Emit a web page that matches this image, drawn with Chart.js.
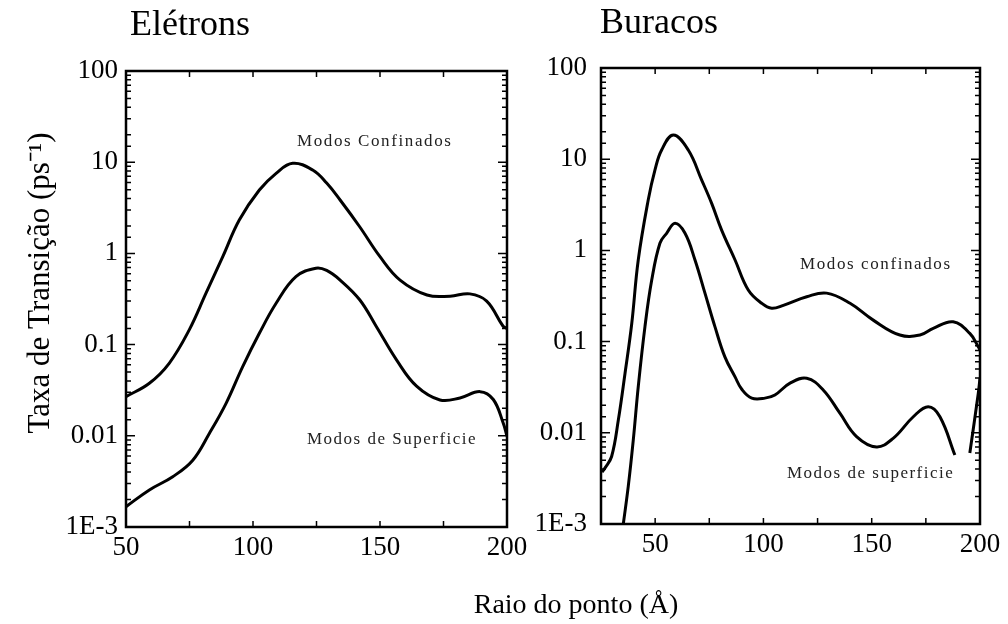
<!DOCTYPE html>
<html>
<head>
<meta charset="utf-8">
<script src="https://cdn.jsdelivr.net/npm/chart.js@4.4.1/dist/chart.umd.min.js"></script>
<style>
  body { margin: 0; background: #fff; }
  #quadro { position: relative; width: 1008px; height: 624px; }
  canvas { position: absolute; left: 0; top: 0; }
</style>
</head>
<body>
<div id="quadro">
  <canvas id="graficoEletrons" width="1008" height="624"></canvas>
  <canvas id="graficoBuracos" width="1008" height="624"></canvas>
</div>
<script>
// Elétrons - modos confinados
const raioEletronsConf = [50, 59.2, 67, 74.9, 81.5, 88.1, 94.6, 102.5, 109.1, 115.6, 123.5, 129, 134.3, 142, 150, 157.9, 168.5, 177.6, 185.4, 192, 198.4, 200];
const taxaEletronsConf = [0.0269, 0.0377, 0.0624, 0.145, 0.366, 0.92, 2.32, 4.95, 7.55, 9.72, 8.2, 5.9, 3.85, 1.96, 0.92, 0.51, 0.35, 0.34, 0.36, 0.30, 0.16, 0.15];
// Elétrons - modos de superfície
const raioEletronsSup = [50, 59.2, 68.4, 76.3, 82.8, 89.4, 95.9, 102.5, 109.1, 116.9, 124.8, 129, 134.3, 142, 148.6, 156.5, 164.4, 173.6, 181.5, 189.4, 194.6, 198.5, 200];
const taxaEletronsSup = [0.00167, 0.00255, 0.00356, 0.0054, 0.0106, 0.0227, 0.057, 0.133, 0.284, 0.556, 0.687, 0.65, 0.51, 0.31, 0.157, 0.068, 0.035, 0.0247, 0.026, 0.0305, 0.025, 0.0138, 0.0099];

// Buracos - modos confinados
const raioBuracosConf = [25.5, 26.8, 29.9, 33, 36.1, 39.2, 42.2, 46.8, 49.9, 53, 58.4, 65.3, 71.5, 76.1, 80.7, 86.9, 93, 99.2, 103.8, 109.2, 120, 129.2, 140, 150.7, 163, 172.3, 178.4, 187.6, 195.3, 199.2, 200];
const taxaBuracosConf = [0.0037, 0.0041, 0.0055, 0.0138, 0.045, 0.158, 0.785, 3.57, 7.6, 12.6, 18.4, 12.6, 5.9, 3.28, 1.67, 0.785, 0.368, 0.263, 0.232, 0.25, 0.31, 0.34, 0.263, 0.172, 0.118, 0.118, 0.14, 0.165, 0.123, 0.088, 0.081];
// Buracos - modos de superfície (com falha perto de 190)
const raioBuracosSup = [35.3, 37.6, 39.9, 42.2, 45.3, 48.4, 52.2, 55.3, 59.2, 63.8, 68.4, 73, 77.6, 82.2, 86.9, 90, 94.6, 100.7, 105.3, 112.3, 120, 127.6, 135.3, 143, 152.2, 159.9, 169.2, 176.1, 181.5, 188.4, 191, 195.3, 199.2, 200];
const taxaBuracosSup = [0.001, 0.0026, 0.0083, 0.032, 0.146, 0.47, 1.2, 1.54, 1.98, 1.54, 0.785, 0.34, 0.146, 0.068, 0.041, 0.030, 0.024, 0.024, 0.026, 0.035, 0.0396, 0.0295, 0.0164, 0.0091, 0.0070, 0.0087, 0.015, 0.0193, 0.015, 0.0057, null, 0.006, 0.027, 0.04];

const rotulosY = ['1E-3', '0.01', '0.1', '1', '10', '100'];
const rotulosX = [50, 100, 150, 200];

const fonteSerif = "'Liberation Serif', 'Times New Roman', serif";

function pontos(xs, ys) {
  return xs.map((r, i) => ({ x: r, y: ys[i] }));
}

function serie(xs, ys) {
  return {
    data: pontos(xs, ys),
    borderColor: '#000',
    borderWidth: 3,
    pointRadius: 0,
    fill: false,
    spanGaps: false,
    tension: 0.4
  };
}

// moldura e marcas para dentro, como no original
const molduraTicks = {
  id: 'molduraTicks',
  afterDraw(chart) {
    const { ctx, chartArea: a, scales: { x, y } } = chart;
    ctx.save();
    ctx.strokeStyle = '#000';
    ctx.lineWidth = 1.5;
    ctx.beginPath();
    x.ticks.forEach(t => {
      const px = x.getPixelForValue(t.value);
      const len = 6;
      ctx.moveTo(px, a.bottom); ctx.lineTo(px, a.bottom - len);
      ctx.moveTo(px, a.top); ctx.lineTo(px, a.top + len);
    });
    y.ticks.forEach(t => {
      const py = y.getPixelForValue(t.value);
      const e = Math.log10(t.value);
      const len = Math.abs(e - Math.round(e)) < 1e-6 ? 9 : 5;
      ctx.moveTo(a.left, py); ctx.lineTo(a.left + len, py);
      ctx.moveTo(a.right, py); ctx.lineTo(a.right - len, py);
    });
    ctx.stroke();
    ctx.lineWidth = 2.5;
    ctx.strokeRect(a.left, a.top, a.right - a.left, a.bottom - a.top);
    ctx.restore();
  }
};

// títulos e anotações
const textos = {
  id: 'textos',
  afterDraw(chart, args, opts) {
    const { ctx } = chart;
    (opts.itens || []).forEach(t => {
      ctx.save();
      ctx.fillStyle = t.cor || '#000';
      ctx.font = t.fonte;
      ctx.letterSpacing = t.espaco || '0px';
      ctx.textAlign = t.alinhar || 'left';
      ctx.textBaseline = 'alphabetic';
      ctx.translate(t.x, t.y);
      if (t.rot) ctx.rotate(t.rot);
      ctx.fillText(t.texto, 0, 0);
      ctx.restore();
    });
  }
};

function opcoes(cfg) {
  return {
    responsive: false,
    animation: false,
    events: [],
    layout: { padding: cfg.padding },
    plugins: {
      legend: { display: false },
      tooltip: { enabled: false },
      textos: { itens: cfg.textos }
    },
    scales: {
      x: {
        type: 'linear',
        min: cfg.xMin,
        max: 200,
        afterFit: s => { s.height = cfg.alturaX; },
        grid: { display: false, drawTicks: false },
        border: { display: false },
        ticks: {
          stepSize: 25,
          autoSkip: false,
          maxRotation: 0,
          padding: 5,
          color: '#000',
          font: { family: fonteSerif, size: 27 },
          callback: v => rotulosX.includes(v) ? String(v) : ''
        }
      },
      y: {
        type: 'logarithmic',
        min: 0.001,
        max: 100,
        afterFit: s => { s.width = cfg.larguraY; },
        grid: { display: false, drawTicks: false },
        border: { display: false },
        ticks: {
          autoSkip: false,
          padding: cfg.padY,
          color: '#000',
          font: { family: fonteSerif, size: 27 },
          callback: v => {
            const e = Math.log10(v);
            if (Math.abs(e - Math.round(e)) > 1e-6) return '';
            return rotulosY[Math.round(e) + 3];
          }
        }
      }
    }
  };
}

const fonteNota = "17px " + fonteSerif;

new Chart(document.getElementById('graficoEletrons'), {
  type: 'line',
  data: { datasets: [serie(raioEletronsConf, taxaEletronsConf), serie(raioEletronsSup, taxaEletronsSup)] },
  options: opcoes({
    padding: { left: 0, top: 71, right: 1008 - 507, bottom: 0 },
    larguraY: 126,
    alturaX: 624 - 527,
    xMin: 50,
    padY: 8,
    textos: [
      { texto: 'Elétrons', x: 130, y: 35, fonte: '36px ' + fonteSerif },
      { texto: 'Modos Confinados', x: 297, y: 146, fonte: fonteNota, espaco: '1.6px', cor: '#222' },
      { texto: 'Modos de Superficie', x: 307, y: 444, fonte: fonteNota, espaco: '1.5px', cor: '#222' },
      { texto: 'Taxa de Transição (ps⁻¹)', x: 49, y: 283, fonte: '31px ' + fonteSerif, alinhar: 'center', rot: -Math.PI / 2 },
      { texto: 'Raio do ponto (Å)', x: 576, y: 613, fonte: '28px ' + fonteSerif, alinhar: 'center' }
    ]
  }),
  plugins: [molduraTicks, textos]
});

new Chart(document.getElementById('graficoBuracos'), {
  type: 'line',
  data: { datasets: [serie(raioBuracosConf, taxaBuracosConf), serie(raioBuracosSup, taxaBuracosSup)] },
  options: opcoes({
    padding: { left: 0, top: 68, right: 1008 - 980, bottom: 0 },
    larguraY: 601,
    alturaX: 624 - 524,
    xMin: 25,
    padY: 14,
    textos: [
      { texto: 'Buracos', x: 600, y: 33, fonte: '36px ' + fonteSerif },
      { texto: 'Modos confinados', x: 800, y: 269, fonte: fonteNota, espaco: '1.6px', cor: '#222' },
      { texto: 'Modos de superficie', x: 787, y: 478, fonte: fonteNota, espaco: '1.5px', cor: '#222' }
    ]
  }),
  plugins: [molduraTicks, textos]
});
</script>
</body>
</html>
